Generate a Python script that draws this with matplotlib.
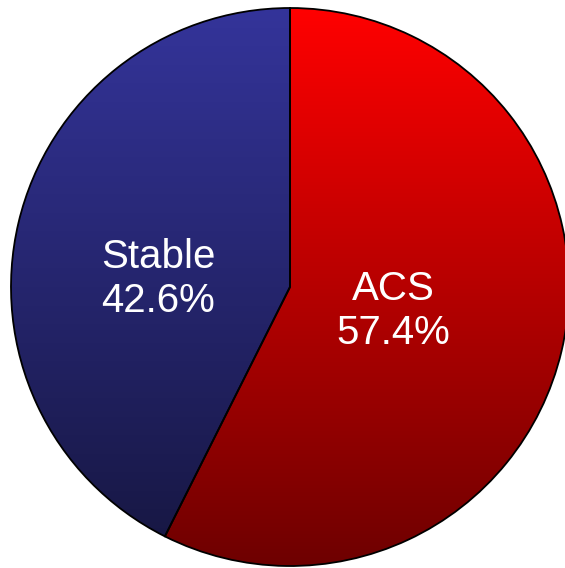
import numpy as np
import matplotlib
matplotlib.use('Agg')
import matplotlib.pyplot as plt
from matplotlib.colors import LinearSegmentedColormap

labels = ['ACS', 'Stable']
shares = [57.4, 42.6]
# top / bottom colours of the vertical gradient in each slice
grad_top = ['#ff0000', '#34349a']
grad_bot = ['#6e0000', '#161640']

plt.rcParams['font.family'] = ['Liberation Sans', 'DejaVu Sans']

fig = plt.figure(figsize=(5.65, 5.68), dpi=100)
ax = fig.add_axes([11 / 565, 2 / 568, 558 / 565, 558 / 568])

wedges, _ = ax.pie(shares, startangle=90, counterclock=False, radius=1,
                   wedgeprops=dict(edgecolor='black', linewidth=1.3))

ramp = np.linspace(1, 0, 256).reshape(-1, 1)
for w, top, bot in zip(wedges, grad_top, grad_bot):
    w.set_facecolor('none')
    cmap = LinearSegmentedColormap.from_list('g', [bot, top])
    im = ax.imshow(ramp, cmap=cmap, extent=[-1, 1, -1, 1], origin='upper',
                   aspect='auto', zorder=0.5, vmin=0, vmax=1)
    im.set_clip_path(w)

# label positions along each slice
angles = []
start = 90
for s in shares:
    mid = start - s * 360 / 100 / 2
    angles.append(np.deg2rad(mid))
    start -= s * 360 / 100
dist = [0.38, 0.485]
for lab, s, a, d in zip(labels, shares, angles, dist):
    x, y = d * np.cos(a), d * np.sin(a)
    if lab == 'Stable':
        y = 0.03
    ax.text(x, y, f'{lab}\n{s:.1f}%', color='white', fontsize=29,
            ha='center', va='center', linespacing=1.2, zorder=3)

ax.set_xlim(-1, 1)
ax.set_ylim(-1, 1)
ax.set_aspect('equal')
ax.axis('off')
fig.savefig('out.png', dpi=100)
